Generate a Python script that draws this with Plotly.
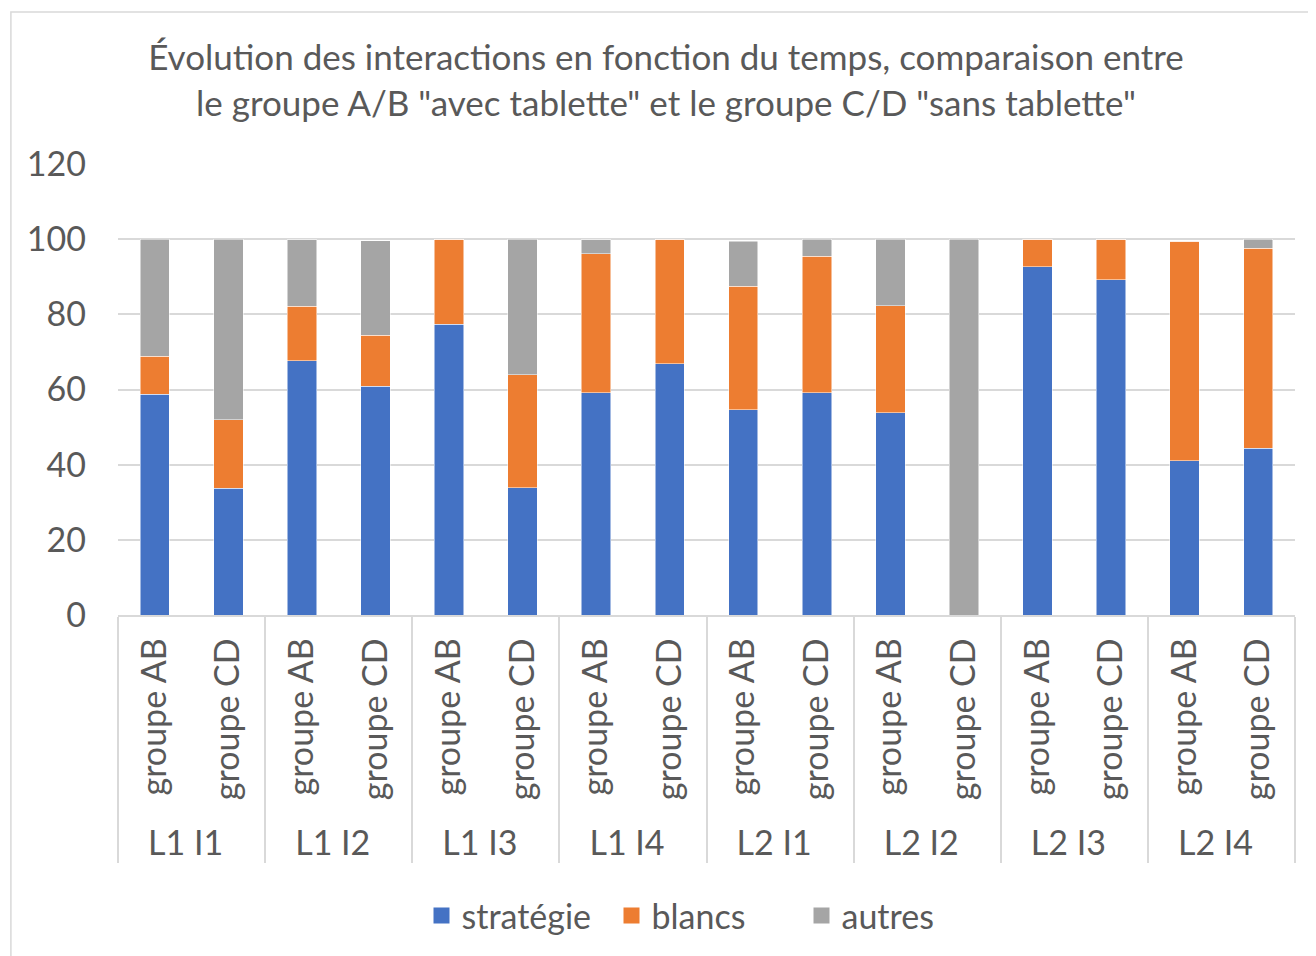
import plotly.graph_objects as go

outer = ['L1 I1', 'L1 I1', 'L1 I2', 'L1 I2', 'L1 I3', 'L1 I3', 'L1 I4', 'L1 I4',
         'L2 I1', 'L2 I1', 'L2 I2', 'L2 I2', 'L2 I3', 'L2 I3', 'L2 I4', 'L2 I4']
inner = ['groupe AB', 'groupe CD'] * 8

strategie = [58.8, 33.7, 67.6, 60.9, 77.3, 33.8, 59.1, 66.9,
             54.6, 59.2, 53.8, 0, 92.7, 89.2, 41.0, 44.4]
blancs = [10.0, 18.3, 14.6, 13.5, 22.7, 30.1, 37.0, 33.1,
          32.9, 36.3, 28.5, 0, 7.3, 10.8, 58.5, 53.2]
autres = [31.2, 48.0, 17.6, 25.2, 0, 36.1, 3.7, 0,
          12.0, 4.5, 17.7, 100, 0, 0, 0, 2.4]

FONT = 'Lato'
GREY_TXT = '#595959'
FS = 34

series = [('stratégie', strategie, '#4472C4'),
          ('blancs', blancs, '#ED7D31'),
          ('autres', autres, '#A5A5A5')]

fig = go.Figure()
for name, vals, col in series:
  fig.add_trace(go.Bar(
    x = [outer, inner],
    y = vals,
    name = name,
    showlegend = False,
    marker = dict(color = col, line = dict(color = 'white', width = 0.5)),
  ))

# legend-only traces on a hidden axis, so the legend squares can be bigger
for name, vals, col in series:
  fig.add_trace(go.Scatter(
    x = [None], y = [None], mode = 'markers', name = name,
    marker = dict(symbol = 'square', size = 20, color = col),
    xaxis = 'x2', yaxis = 'y2',
  ))

# page body has an 8px margin, margins below compensate for it
fig.update_layout(
  width = 1316, height = 956,
  barmode = 'stack',
  bargap = 0.6,
  paper_bgcolor = 'white',
  plot_bgcolor = 'white',
  font = dict(family = FONT, size = FS, color = GREY_TXT),
  title = dict(
    text = 'Évolution des interactions en fonction du temps, comparaison entre<br>'
           'le groupe A/B "avec tablette" et le groupe C/D "sans tablette"',
    x = 0.5, xanchor = 'center', xref = 'container',
    y = 1 - 62 / 956, yanchor = 'middle',
    font = dict(family = FONT, size = 35, color = GREY_TXT),
  ),
  margin = dict(l = 110, r = 29, t = 156, b = 349, autoexpand = False),
  legend = dict(
    orientation = 'h', traceorder = 'normal',
    x = 0.5, xanchor = 'center', y = -(908 - 607) / 451, yanchor = 'middle',
    font = dict(size = FS, color = GREY_TXT),
    itemsizing = 'trace',
    entrywidth = 145, entrywidthmode = 'pixels',
  ),
  showlegend = True,
  xaxis2 = dict(visible = False, overlaying = 'x'),
  yaxis2 = dict(visible = False, overlaying = 'y'),
  shapes = [dict(type = 'rect', xref = 'paper', yref = 'paper',
                 x0 = -0.091, x1 = 1.1, y0 = -1.1, y1 = 1.337,
                 line = dict(color = '#D9D9D9', width = 1.5))],
)

fig.update_layout(yaxis = dict(
  range = [0, 120], dtick = 20,
  showgrid = True, gridcolor = '#D9D9D9', gridwidth = 1.5,
  zeroline = False, showline = False,
  tickfont = dict(size = FS, color = GREY_TXT),
  ticks = '', ticklabelstandoff = 31,
))
fig.update_layout(xaxis = dict(
  type = 'multicategory',
  tickangle = -90,
  showline = True, linecolor = '#D9D9D9', linewidth = 1.5,
  showdividers = True, dividercolor = '#D9D9D9', dividerwidth = 1.5,
  tickfont = dict(size = FS, color = GREY_TXT),
  ticklabelstandoff = 8,
))

fig.write_html('out.html')
